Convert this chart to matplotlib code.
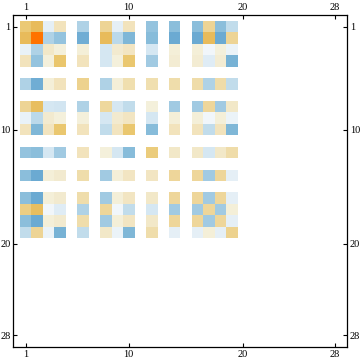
import numpy as np
import matplotlib
matplotlib.use("Agg")
import matplotlib.pyplot as plt
from matplotlib.colors import LinearSegmentedColormap

N = 28
idx = [1, 2, 3, 4, 6, 8, 9, 10, 12, 14, 16, 17, 18, 19]

r1  = [0.58, 0.75, -0.10, 0.22, -0.38, 0.45, -0.10, 0.22, -0.52, -0.58, -0.58, 0.45, -0.58, -0.30]
r2  = [0.75, 1.00, -0.38, -0.52, -0.75, 0.75, -0.33, -0.65, -0.60, -0.78, -0.78, 0.75, -0.78, 0.45]
r3  = [-0.08, -0.38, 0.15, 0.07, 0.08, -0.20, 0.12, 0.18, -0.20, 0.08, 0.08, -0.04, 0.07, -0.07]
r4  = [0.22, -0.52, 0.07, 0.62, 0.22, -0.20, 0.07, 0.60, -0.45, 0.10, 0.10, -0.14, 0.10, -0.70]
r6  = [-0.38, -0.75, 0.08, 0.22, 0.48, -0.38, 0.08, 0.28, 0.28, 0.30, 0.32, -0.38, 0.32, -0.30]
r8  = [0.45, 0.72, -0.20, -0.22, -0.38, 0.40, -0.20, -0.30, 0.07, -0.45, -0.45, 0.42, -0.45, 0.15]
r9  = [-0.08, -0.33, 0.12, 0.07, 0.07, -0.20, 0.12, 0.18, -0.20, 0.08, 0.08, -0.04, 0.08, -0.07]
r10 = [0.22, -0.65, 0.20, 0.60, 0.22, -0.30, 0.20, 0.60, -0.60, 0.22, 0.22, -0.30, 0.22, -0.65]
r12 = [-0.52, -0.58, -0.20, -0.45, 0.22, 0.07, -0.20, -0.60, 0.55, 0.15, 0.15, -0.20, 0.15, 0.32]
r14 = [-0.58, -0.78, 0.08, 0.12, 0.30, -0.45, 0.08, 0.18, 0.18, 0.42, 0.42, -0.45, 0.42, -0.10]
r16 = [-0.58, -0.78, 0.08, 0.12, 0.30, -0.45, 0.08, 0.18, 0.15, 0.42, 0.42, -0.45, 0.42, -0.10]
r17 = [0.52, 0.72, -0.04, -0.14, -0.38, 0.42, -0.04, -0.30, -0.20, -0.45, -0.45, 0.42, -0.45, 0.08]
r18 = [-0.58, -0.78, 0.08, 0.12, 0.30, -0.45, 0.08, 0.18, 0.15, 0.42, 0.42, -0.45, 0.42, -0.10]
r19 = [-0.30, 0.45, -0.07, -0.70, -0.30, 0.15, -0.07, -0.65, 0.30, -0.10, -0.10, 0.08, -0.10, 0.48]
rows = [r1, r2, r3, r4, r6, r8, r9, r10, r12, r14, r16, r17, r18, r19]

ticks = [1, 10, 20, 28]

M = np.zeros((N, N))
for i, row in zip(idx, rows):
    for j, v in zip(idx, row):
        M[i - 1, j - 1] = v
Mm = np.ma.masked_equal(M, 0.0)

anchors = [
    (-1.0, "#5A9ECC"), (-0.8, "#68A8D2"), (-0.65, "#80B8D8"), (-0.5, "#98C5DF"),
    (-0.38, "#B0D3E7"), (-0.3, "#C2DDEC"), (-0.2, "#D6E8F3"), (-0.1, "#E6F0F7"),
    (-0.03, "#F3F8FB"), (0.0, "#FFFFFF"), (0.05, "#F5F2E0"), (0.15, "#F2E8C8"),
    (0.22, "#F2E3BC"), (0.3, "#F0DEAC"), (0.45, "#EED596"), (0.6, "#EBC870"),
    (0.75, "#E8BC5C"), (1.0, "#FF7300"),
]
cmap = LinearSegmentedColormap.from_list(
    "mma", [((v + 1) / 2, c) for v, c in anchors], N=1024)
cmap.set_bad("white")

fig = plt.figure(figsize=(3.6, 3.63), dpi=100)
fig.patch.set_facecolor("white")
ax = fig.add_axes([13.3 / 360, 1 - 347.3 / 363, (347 - 13.3) / 360, (347.3 - 15) / 363])
ax.set_facecolor("white")
ax.imshow(Mm, cmap=cmap, vmin=-1, vmax=1, interpolation="nearest",
          extent=(0.5, N + 0.5, N + 0.5, 0.5), aspect="auto")
pad = 0.585
ax.set_xlim(0.5 - pad, N + 0.5 + pad)
ax.set_ylim(N + 0.5 + 0.55, 0.5 - 0.55)

ax.set_xticks(ticks)
ax.set_yticks(ticks)
ax.set_xticklabels([str(t) for t in ticks])
ax.set_yticklabels([str(t) for t in ticks])
ax.tick_params(axis="both", direction="in", length=3, width=0.8,
               top=True, bottom=True, left=True, right=True,
               labeltop=True, labelbottom=True, labelleft=True, labelright=True,
               labelsize=7.5, pad=2)
for lab in ax.get_xticklabels() + ax.get_yticklabels():
    lab.set_family("Liberation Serif")
for s in ax.spines.values():
    s.set_linewidth(0.9)
    s.set_color("black")

fig.savefig("out.png", dpi=100, facecolor="white")
